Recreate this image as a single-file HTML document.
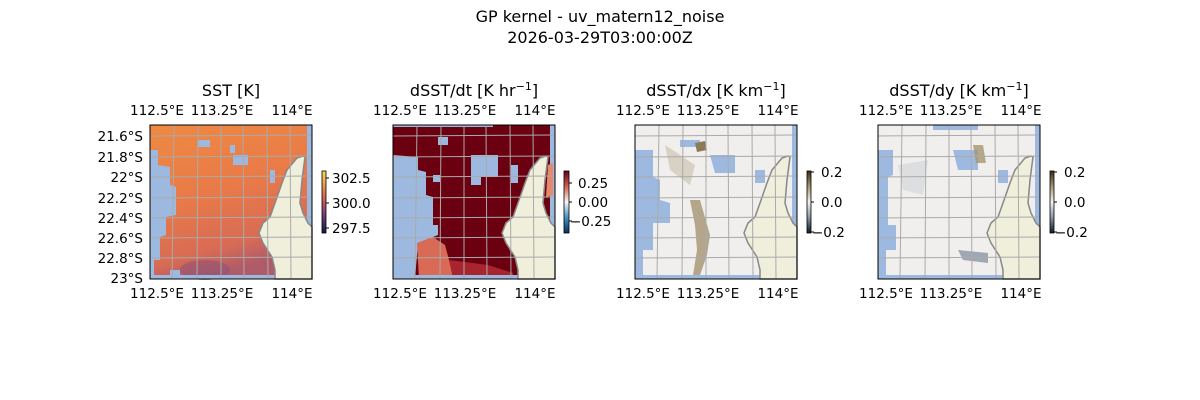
<!DOCTYPE html>
<html><head><meta charset="utf-8"><style>
body{margin:0;background:#fff;}
svg{display:block;font-family:"DejaVu Sans","Liberation Sans",sans-serif;}
</style></head><body>
<svg width="1200" height="400" viewBox="0 0 1200 400" xmlns="http://www.w3.org/2000/svg">
<defs>
<path id="land" d="M153,31 L147,33 L137,45 L132,58 L125,78 L120,92 L113,98 L109,108 L113,118 L122,132 L125,145 L125,154 L162,154 L162,102 L158,98 L153,88 L150,78 L152,55 L155,32 Z" fill="#efefdb" stroke="#888" stroke-width="1.5"/>
<g id="grid" stroke="#aaa" stroke-width="1" fill="none">
<path d="M24,0 L22,154 M48,0 L47,154 M71,0 L71,154 M93,0 L94,154 M117,0 L118,154 M140,0 L141,154"/>
<path d="M0,11 L162,10 M0,32 L162,31 M0,52 L162,51 M0,73 L162,72 M0,93 L162,92 M0,113 L162,112 M0,133 L162,132"/>
</g>
<linearGradient id="g1" x1="0" y1="0" x2="0.3" y2="1">
<stop offset="0" stop-color="#ee8a42"/><stop offset="0.5" stop-color="#e97a48"/><stop offset="0.85" stop-color="#d86b54"/><stop offset="1" stop-color="#b05c68"/></linearGradient>
<linearGradient id="cb1" x1="0" y1="1" x2="0" y2="0"><stop offset="0" stop-color="#0c1a4a"/><stop offset="0.3" stop-color="#7a3e7a"/><stop offset="0.6" stop-color="#e06a50"/><stop offset="1" stop-color="#f4e04a"/></linearGradient>
<linearGradient id="cb2" x1="0" y1="1" x2="0" y2="0"><stop offset="0" stop-color="#053061"/><stop offset="0.25" stop-color="#4393c3"/><stop offset="0.5" stop-color="#f7f7f7"/><stop offset="0.75" stop-color="#d6604d"/><stop offset="1" stop-color="#67001f"/></linearGradient>
<linearGradient id="cb3" x1="0" y1="1" x2="0" y2="0"><stop offset="0" stop-color="#0b1a2c"/><stop offset="0.25" stop-color="#8898a8"/><stop offset="0.5" stop-color="#f4f2f0"/><stop offset="0.75" stop-color="#a89878"/><stop offset="1" stop-color="#3a2e1a"/></linearGradient>
</defs>

<text x="600" y="22" font-size="16" text-anchor="middle">GP kernel - uv_matern12_noise</text>
<text x="600" y="43" font-size="16" text-anchor="middle">2026-03-29T03:00:00Z</text>

<!-- Panel 1 -->
<g transform="translate(150,125)">
<rect width="162" height="154" fill="url(#g1)"/>
<rect x="157" y="0" width="5" height="154" fill="#9db9e0"/>
<path d="M0,25 L8,25 L8,40 L20,42 L20,60 L26,62 L26,90 L16,92 L16,110 L10,112 L10,135 L4,135 L4,154 L0,154 Z" fill="#9db9e0"/>
<path d="M48,15 L60,15 L60,22 L48,22Z M80,20 L85,20 L85,28 L80,28Z M83,30 L98,30 L98,40 L83,40Z M120,45 L125,45 L125,58 L120,58Z M20,145 L30,145 L30,154 L20,154Z" fill="#9db9e0"/>
<ellipse cx="55" cy="145" rx="25" ry="10" fill="#8a4f78" opacity="0.5"/>
<rect x="0" y="150" width="125" height="4" fill="#9db9e0"/>
<use href="#land"/><use href="#grid"/>
<rect width="162" height="154" fill="none" stroke="#000" stroke-width="1"/>
</g>
<g font-size="13.5" text-anchor="middle">
<text x="231" y="96" font-size="16">SST [K]</text>
<text x="157" y="115">112.5°E</text><text x="222" y="115">113.25°E</text><text x="292" y="115">114°E</text>
<text x="157" y="298">112.5°E</text><text x="222" y="298">113.25°E</text><text x="292" y="298">114°E</text>
</g>
<g font-size="13.5" text-anchor="end">
<text x="143" y="141">21.6°S</text><text x="143" y="162">21.8°S</text><text x="143" y="182">22°S</text><text x="143" y="203">22.2°S</text><text x="143" y="223">22.4°S</text><text x="143" y="243">22.6°S</text><text x="143" y="263">22.8°S</text><text x="143" y="283">23°S</text>
</g>
<rect x="322" y="171" width="4" height="62" fill="url(#cb1)" stroke="#000" stroke-width="0.8"/>
<g font-size="13.5"><path d="M326,178h3M326,203h3M326,228h3" stroke="#000"/>
<text x="332" y="183">302.5</text><text x="332" y="208">300.0</text><text x="332" y="233">297.5</text></g>

<!-- Panel 2 -->
<g transform="translate(393,125)">
<rect width="162" height="154" fill="#6b0010"/>
<rect x="157" y="0" width="5" height="154" fill="#9db9e0"/>
<rect x="0" y="0" width="100" height="2" fill="#9db9e0"/>
<path d="M0,30 L25,32 L25,45 L33,47 L33,70 L40,72 L40,100 L45,100 L45,110 L25,118 L22,154 L0,154 Z" fill="#9db9e0"/>
<path d="M24,118 L40,112 L52,120 L56,135 L60,150 L40,154 L26,154 Z" fill="#d86a56"/>
<path d="M56,135 L95,140 L120,148 L120,154 L60,154Z" fill="#a82530"/>
<path d="M45,12 L55,12 L55,20 L45,20Z M78,30 L105,30 L105,52 L88,52 L88,60 L78,60Z M40,50 L47,50 L47,57 L40,57Z M118,40 L125,40 L125,58 L118,58Z" fill="#9db9e0"/>
<path d="M155,40 L160,38 L160,70 L153,72Z" fill="#e8886a"/>
<rect x="0" y="150" width="162" height="4" fill="#9db9e0"/>
<use href="#land"/><use href="#grid"/>
<rect width="162" height="154" fill="none" stroke="#000" stroke-width="1"/>
</g>
<g font-size="13.5" text-anchor="middle">
<text x="474" y="96" font-size="16">dSST/dt [K hr<tspan dy="-6" font-size="11">−1</tspan><tspan dy="6">]</tspan></text>
<text x="400" y="115">112.5°E</text><text x="465" y="115">113.25°E</text><text x="535" y="115">114°E</text>
<text x="400" y="298">112.5°E</text><text x="465" y="298">113.25°E</text><text x="535" y="298">114°E</text>
</g>
<rect x="564" y="171" width="5" height="62" fill="url(#cb2)" stroke="#000" stroke-width="0.8"/>
<g font-size="13.5"><path d="M569,183h3M569,202h3M569,221h3" stroke="#000"/>
<text x="578" y="188">0.25</text><text x="578" y="207">0.00</text><text x="570" y="226">−0.25</text></g>

<!-- Panel 3 -->
<g transform="translate(635,125)">
<rect width="162" height="154" fill="#f1efed"/>
<rect x="157" y="0" width="5" height="154" fill="#9db9e0"/>
<path d="M0,25 L18,25 L18,52 L25,55 L25,75 L35,78 L35,98 L18,98 L18,125 L8,125 L8,154 L0,154Z" fill="#9db9e0"/>
<path d="M45,15 L65,15 L65,22 L45,22Z M75,30 L100,30 L100,48 L80,48Z M120,45 L130,45 L130,58 L120,58Z" fill="#9db9e0"/>
<path d="M55,75 L65,75 L75,110 L72,130 L65,150 L58,150 L62,125 L60,100Z" fill="#a08c68" opacity="0.75"/>
<path d="M30,20 L60,40 L55,60 L35,45Z" fill="#c8bca8" opacity="0.6"/>
<path d="M60,18 L70,16 L72,25 L62,27Z" fill="#8c7a58"/>
<rect x="0" y="150" width="162" height="4" fill="#9db9e0"/>
<use href="#land"/><use href="#grid"/>
<rect width="162" height="154" fill="none" stroke="#000" stroke-width="1"/>
</g>
<g font-size="13.5" text-anchor="middle">
<text x="716" y="96" font-size="16">dSST/dx [K km<tspan dy="-6" font-size="11">−1</tspan><tspan dy="6">]</tspan></text>
<text x="643" y="115">112.5°E</text><text x="708" y="115">113.25°E</text><text x="778" y="115">114°E</text>
<text x="643" y="298">112.5°E</text><text x="708" y="298">113.25°E</text><text x="778" y="298">114°E</text>
</g>
<rect x="807" y="171" width="4" height="62" fill="url(#cb3)" stroke="#000" stroke-width="0.8"/>
<g font-size="13.5"><path d="M811,172h3M811,202h3M811,232h3" stroke="#000"/>
<text x="821" y="177">0.2</text><text x="821" y="207">0.0</text><text x="812" y="237">−0.2</text></g>

<!-- Panel 4 -->
<g transform="translate(878,125)">
<rect width="162" height="154" fill="#f1efed"/>
<rect x="157" y="0" width="5" height="154" fill="#9db9e0"/>
<path d="M0,25 L15,25 L15,50 L10,52 L10,100 L18,100 L18,125 L8,125 L8,154 L0,154Z" fill="#9db9e0"/>
<path d="M55,0 L100,0 L100,5 L55,5Z M75,25 L100,25 L100,45 L80,45Z M120,45 L130,45 L130,58 L120,58Z" fill="#9db9e0"/>
<path d="M95,20 L105,20 L108,38 L98,38Z" fill="#a89470" opacity="0.8"/>
<path d="M80,125 L110,128 L110,138 L85,135Z" fill="#7c8a98" opacity="0.7"/>
<path d="M20,40 L50,35 L45,70 L25,65Z" fill="#d0d2d6" opacity="0.6"/>
<rect x="0" y="150" width="162" height="4" fill="#9db9e0"/>
<use href="#land"/><use href="#grid"/>
<rect width="162" height="154" fill="none" stroke="#000" stroke-width="1"/>
</g>
<g font-size="13.5" text-anchor="middle">
<text x="959" y="96" font-size="16">dSST/dy [K km<tspan dy="-6" font-size="11">−1</tspan><tspan dy="6">]</tspan></text>
<text x="886" y="115">112.5°E</text><text x="951" y="115">113.25°E</text><text x="1021" y="115">114°E</text>
<text x="886" y="298">112.5°E</text><text x="951" y="298">113.25°E</text><text x="1021" y="298">114°E</text>
</g>
<rect x="1050" y="171" width="4" height="62" fill="url(#cb3)" stroke="#000" stroke-width="0.8"/>
<g font-size="13.5"><path d="M1054,172h3M1054,202h3M1054,232h3" stroke="#000"/>
<text x="1064" y="177">0.2</text><text x="1064" y="207">0.0</text><text x="1055" y="237">−0.2</text></g>
</svg>
</body></html>
